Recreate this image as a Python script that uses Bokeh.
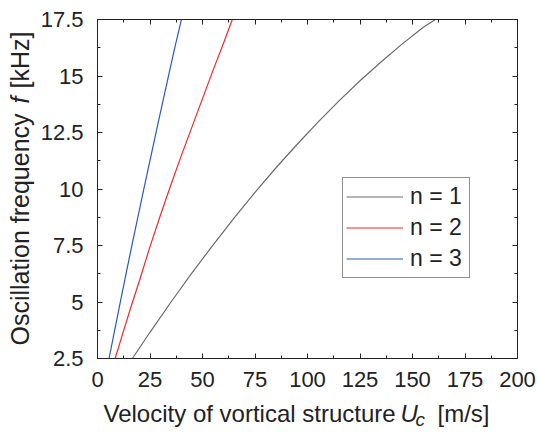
from bokeh.plotting import figure
from bokeh.models import Title, LinearAxis, FixedTicker, NumeralTickFormatter, Range1d
from bokeh.embed import file_html
from bokeh.resources import INLINE

# ---- data ----
u_n1 = [16.6, 25, 35, 45, 55, 65, 75, 85, 95, 105, 115, 125, 135, 145, 155, 160.9]
f_n1 = [2.5, 3.66, 5.0, 6.29, 7.52, 8.71, 9.85, 10.94, 11.97, 12.96, 13.9, 14.79, 15.62, 16.41, 17.15, 17.5]
u_n2 = [8.4, 12, 16, 20, 25, 30, 35, 40, 45, 50, 55, 60, 64.2]
f_n2 = [2.5, 3.6, 4.8, 5.95, 7.45, 8.85, 10.2, 11.5, 12.75, 14.0, 15.25, 16.45, 17.5]
u_n3 = [5.5, 8, 11, 14, 16.3, 19, 22, 25, 28, 31, 34, 37, 40.1]
f_n3 = [2.5, 3.67, 5.06, 6.43, 7.47, 8.66, 9.97, 11.27, 12.55, 13.82, 15.08, 16.33, 17.55]
series_labels = ["n = 1", "n = 2", "n = 3"]
x_ticks = [0, 25, 50, 75, 100, 125, 150, 175, 200]
y_ticks = [2.5, 5, 7.5, 10, 12.5, 15, 17.5]

FONT = "Liberation Sans"
INK = "#222222"

p = figure(width=538, height=433, output_backend="svg", toolbar_location=None,
           x_range=Range1d(0, 200), y_range=Range1d(2.5, 17.5),
           min_border_left=97, min_border_right=21, min_border_top=19, min_border_bottom=75)
p.xgrid.visible = False
p.ygrid.visible = False
p.outline_line_color = INK
p.outline_line_width = 1
p.background_fill_color = "white"
p.border_fill_color = "white"

p.line(u_n1, f_n1, line_color="#6a6a6a", line_width=1.2, legend_label=series_labels[0])
p.line(u_n2, f_n2, line_color="#ee2a2a", line_width=1.2, legend_label=series_labels[1])
p.line(u_n3, f_n3, line_color="#2a5ab8", line_width=1.2, legend_label=series_labels[2])

def style_axis(ax, ticks, show_labels):
    ax.ticker = FixedTicker(ticks=ticks, minor_ticks=[
        (a + b) / 2 for a, b in zip(ticks[:-1], ticks[1:])])
    ax.major_tick_in = 5
    ax.major_tick_out = 0
    ax.minor_tick_in = 3
    ax.minor_tick_out = 0
    ax.axis_line_color = INK
    ax.major_tick_line_color = INK
    ax.minor_tick_line_color = INK
    ax.formatter = NumeralTickFormatter(format="0.[0]")
    if show_labels:
        ax.major_label_text_font = FONT
        ax.major_label_text_font_size = "22px"
        ax.major_label_text_color = INK
    else:
        ax.major_label_text_font_size = "0px"
        ax.major_label_text_color = None
        ax.major_label_standoff = 0

style_axis(p.xaxis[0], x_ticks, True)
style_axis(p.yaxis[0], y_ticks, True)
p.xaxis[0].major_label_standoff = 13
p.yaxis[0].major_label_standoff = 14

top_ax = LinearAxis()
right_ax = LinearAxis()
style_axis(top_ax, x_ticks, False)
style_axis(right_ax, y_ticks, False)
p.add_layout(top_ax, "above")
p.add_layout(right_ax, "right")

# ---- axis titles built from pieces (italic symbols), as side-panel titles ----
def piece(text, side, offset, size_px, standoff, italic=False):
    p.add_layout(Title(text=text, align="left", offset=offset, standoff=standoff,
                       vertical_align="middle", text_font=FONT,
                       text_font_size=f"{size_px}px", text_color=INK,
                       text_font_style="italic" if italic else "normal"), side)

def zero(size_px):
    # standoff that makes a title take no room in the side panel
    return -(2 + 1.117 * size_px)

def spacer(side, gap):
    # blank (space-only) tiny title that only pushes the following pieces outwards
    p.add_layout(Title(text=" ", standoff=gap - 2 - 4.5, text_font=FONT,
                       text_font_size="4px", text_color=INK), side)

# x title
spacer("below", 23)
piece("Velocity of vortical structure", "below", 6, 24, zero(24))
piece("U", "below", 303, 24, zero(24), italic=True)
piece("[m/s]", "below", 340, 24, zero(24))
spacer("below", 5)
piece("c", "below", 318, 19, zero(19), italic=True)

# y title
spacer("left", 17)
piece("Oscillation frequency", "left", 13, 25, zero(25))
piece("f", "left", 255, 25, zero(25), italic=True)
piece("[kHz]", "left", 270, 25, zero(25))

# ---- legend ----
leg = p.legend[0]
leg.location = (245, 80)
leg.border_line_color = INK
leg.border_line_width = 1
leg.background_fill_color = "white"
leg.background_fill_alpha = 1
leg.label_text_font = FONT
leg.label_text_font_size = "23px"
leg.label_text_color = INK
leg.glyph_width = 57
leg.glyph_height = 31
leg.label_height = 31
leg.label_width = 56
leg.label_standoff = 7
leg.spacing = 0
leg.padding = 3
leg.margin = 0

open("out.html", "w").write(file_html(p, INLINE))
